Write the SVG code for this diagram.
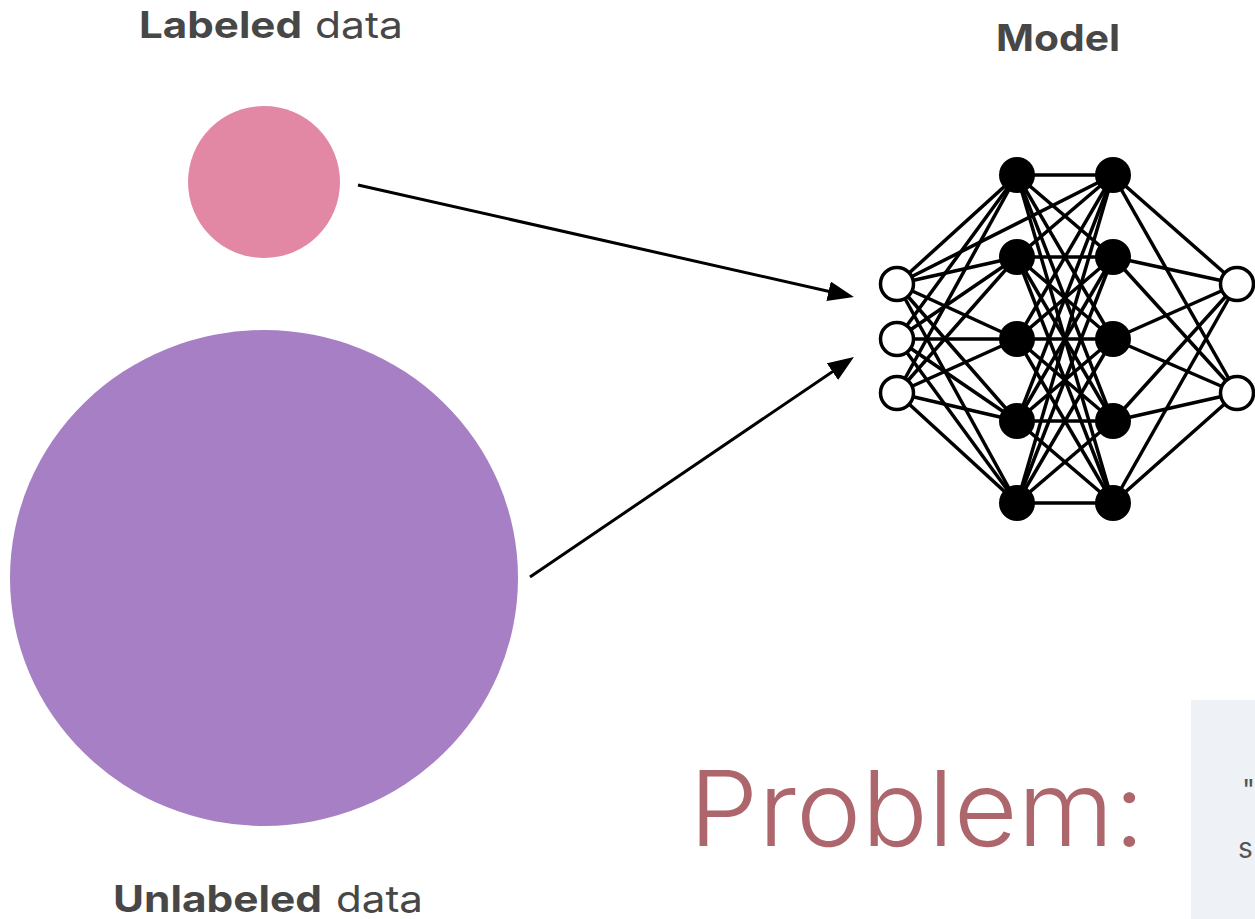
<svg xmlns="http://www.w3.org/2000/svg" width="1255" height="919" viewBox="0 0 1255 919">
  <style>
    .lbl { font-family: Inter, "Open Sans", "Liberation Sans", sans-serif; font-size: 37px; fill: #474747; }
    .bold { font-weight: 700; }
    .reg { font-weight: 400; }
    .edge line { stroke: #000; stroke-width: 3.5; }
    .conn { stroke: #000; stroke-width: 3; fill: none; }
    .in { fill: #fff; stroke: #000; stroke-width: 3.5; }
    .hid { fill: #000; }
    .quote { font-family: Inter, "Open Sans", "Liberation Sans", sans-serif; font-size: 28px; fill: #555; }
  </style>
  <defs>
    <marker id="arrow" markerUnits="userSpaceOnUse" viewBox="0 0 26 20" markerWidth="26" markerHeight="20" refX="20" refY="10" orient="auto">
      <path d="M0,0 L26,10 L0,20 z" fill="#000"/>
    </marker>
  </defs>
  <rect width="1255" height="919" fill="#fff"/>

  <!-- data sources -->
  <g id="labeled">
    <circle cx="264" cy="182" r="76" fill="#e288a5"/>
    <text class="lbl bold" x="139" y="38" textLength="163" lengthAdjust="spacingAndGlyphs">Labeled</text>
    <text class="lbl reg" x="315" y="38" textLength="88" lengthAdjust="spacingAndGlyphs">data</text>
  </g>
  <g id="unlabeled">
    <ellipse cx="264" cy="578" rx="254" ry="248" fill="#a67fc4"/>
    <text class="lbl bold" x="113" y="912" textLength="209" lengthAdjust="spacingAndGlyphs">Unlabeled</text>
    <text class="lbl reg" x="336" y="912" textLength="87" lengthAdjust="spacingAndGlyphs">data</text>
  </g>

  <!-- arrows into the model -->
  <g id="connectors">
    <line class="conn" x1="358" y1="185" x2="848.1" y2="295.7" marker-end="url(#arrow)"/>
    <line class="conn" x1="530" y1="577" x2="849" y2="360.4" marker-end="url(#arrow)"/>
  </g>

  <!-- model: small fully connected network -->
  <g id="model">
    <text class="lbl bold" x="996" y="51" textLength="124" lengthAdjust="spacingAndGlyphs">Model</text>
    <g class="edge">
      <!-- input -> hidden 1 -->
      <line x1="897" y1="284" x2="1017" y2="175"/>
      <line x1="897" y1="284" x2="1017" y2="257"/>
      <line x1="897" y1="284" x2="1017" y2="339"/>
      <line x1="897" y1="284" x2="1017" y2="421"/>
      <line x1="897" y1="284" x2="1017" y2="503"/>
      <line x1="897" y1="339" x2="1017" y2="175"/>
      <line x1="897" y1="339" x2="1017" y2="257"/>
      <line x1="897" y1="339" x2="1017" y2="339"/>
      <line x1="897" y1="339" x2="1017" y2="421"/>
      <line x1="897" y1="339" x2="1017" y2="503"/>
      <line x1="897" y1="393" x2="1017" y2="175"/>
      <line x1="897" y1="393" x2="1017" y2="257"/>
      <line x1="897" y1="393" x2="1017" y2="339"/>
      <line x1="897" y1="393" x2="1017" y2="421"/>
      <line x1="897" y1="393" x2="1017" y2="503"/>
      <line x1="897" y1="284" x2="1113" y2="175"/>
      <!-- hidden 1 -> hidden 2 -->
      <line x1="1017" y1="175" x2="1113" y2="175"/>
      <line x1="1017" y1="175" x2="1113" y2="257"/>
      <line x1="1017" y1="175" x2="1113" y2="339"/>
      <line x1="1017" y1="175" x2="1113" y2="421"/>
      <line x1="1017" y1="175" x2="1113" y2="503"/>
      <line x1="1017" y1="257" x2="1113" y2="175"/>
      <line x1="1017" y1="257" x2="1113" y2="257"/>
      <line x1="1017" y1="257" x2="1113" y2="339"/>
      <line x1="1017" y1="257" x2="1113" y2="421"/>
      <line x1="1017" y1="257" x2="1113" y2="503"/>
      <line x1="1017" y1="339" x2="1113" y2="175"/>
      <line x1="1017" y1="339" x2="1113" y2="257"/>
      <line x1="1017" y1="339" x2="1113" y2="339"/>
      <line x1="1017" y1="339" x2="1113" y2="421"/>
      <line x1="1017" y1="339" x2="1113" y2="503"/>
      <line x1="1017" y1="421" x2="1113" y2="175"/>
      <line x1="1017" y1="421" x2="1113" y2="257"/>
      <line x1="1017" y1="421" x2="1113" y2="339"/>
      <line x1="1017" y1="421" x2="1113" y2="421"/>
      <line x1="1017" y1="421" x2="1113" y2="503"/>
      <line x1="1017" y1="503" x2="1113" y2="175"/>
      <line x1="1017" y1="503" x2="1113" y2="257"/>
      <line x1="1017" y1="503" x2="1113" y2="339"/>
      <line x1="1017" y1="503" x2="1113" y2="421"/>
      <line x1="1017" y1="503" x2="1113" y2="503"/>
      <!-- hidden 2 -> output -->
      <line x1="1113" y1="175" x2="1237" y2="284"/>
      <line x1="1113" y1="175" x2="1237" y2="393"/>
      <line x1="1113" y1="257" x2="1237" y2="284"/>
      <line x1="1113" y1="257" x2="1237" y2="393"/>
      <line x1="1113" y1="339" x2="1237" y2="284"/>
      <line x1="1113" y1="339" x2="1237" y2="393"/>
      <line x1="1113" y1="421" x2="1237" y2="284"/>
      <line x1="1113" y1="421" x2="1237" y2="393"/>
      <line x1="1113" y1="503" x2="1237" y2="284"/>
      <line x1="1113" y1="503" x2="1237" y2="393"/>
    </g>
    <g id="input-layer">
      <circle class="in" cx="897" cy="284" r="16.5"/>
      <circle class="in" cx="897" cy="339" r="16.5"/>
      <circle class="in" cx="897" cy="393" r="16.5"/>
    </g>
    <g id="hidden-1">
      <circle class="hid" cx="1017" cy="175" r="18"/>
      <circle class="hid" cx="1017" cy="257" r="18"/>
      <circle class="hid" cx="1017" cy="339" r="18"/>
      <circle class="hid" cx="1017" cy="421" r="18"/>
      <circle class="hid" cx="1017" cy="503" r="18"/>
    </g>
    <g id="hidden-2">
      <circle class="hid" cx="1113" cy="175" r="18"/>
      <circle class="hid" cx="1113" cy="257" r="18"/>
      <circle class="hid" cx="1113" cy="339" r="18"/>
      <circle class="hid" cx="1113" cy="421" r="18"/>
      <circle class="hid" cx="1113" cy="503" r="18"/>
    </g>
    <g id="output-layer">
      <circle class="in" cx="1237" cy="284" r="16.5"/>
      <circle class="in" cx="1237" cy="393" r="16.5"/>
    </g>
  </g>

  <!-- problem statement -->
  <g id="problem">
    <text x="689" y="846" font-family="Inter, 'Open Sans', 'Liberation Sans', sans-serif" font-weight="300" font-size="104" fill="#ad666b" textLength="456" lengthAdjust="spacingAndGlyphs">Problem:</text>
  </g>
  <g id="quote-box">
    <rect x="1191" y="700" width="70" height="225" fill="#eef2f7"/>
    <text class="quote" x="1242" y="800">"</text>
    <text class="quote" x="1238" y="858">s</text>
  </g>
</svg>
